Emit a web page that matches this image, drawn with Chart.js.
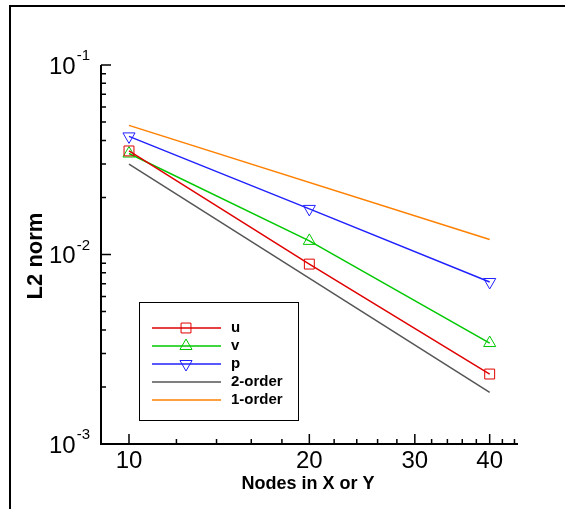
<!DOCTYPE html>
<html>
<head>
<meta charset="utf-8">
<script src="https://cdn.jsdelivr.net/npm/chart.js@4"></script>
<style>
  html, body { margin: 0; padding: 0; background: #fff; }
  #wrap { width: 565px; height: 509px; position: relative; }
</style>
</head>
<body>
<div id="wrap"><canvas id="convChart"></canvas></div>
<script>
// grid sizes and errors
const nodes = [10, 20, 40];
const uErr = [0.0352, 0.0089, 0.00234];
const vErr = [0.0341, 0.0118, 0.00341];
const pErr = [0.0420, 0.0174, 0.00716];
const refNodes = [10, 40];
const order2 = [0.0300, 0.001875];
const order1 = [0.0480, 0.0120];

const xMajor = [10, 20, 30, 40];
const xMinor = [12, 14, 16, 18, 22, 24, 26, 28, 32, 34, 36, 38, 42, 44];
const yMajor = [0.1, 0.01, 0.001];
const yMajorExp = ['-1', '-2', '-3'];
const yMinor = [0.002, 0.003, 0.004, 0.005, 0.006, 0.007, 0.008, 0.009,
                0.02, 0.03, 0.04, 0.05, 0.06, 0.07, 0.08, 0.09];

const RED = '#e00000', GREEN = '#00c800', BLUE = '#2020ff', GREY = '#555555', ORANGE = '#ff8000';
const FONT = "'Liberation Sans', Arial, sans-serif";

function pts(xs, ys) {
  return xs.map((x, i) => ({ x: x, y: ys[i] }));
}

function markerPath(ctx, style, x, y, r) {
  ctx.beginPath();
  if (style === 'rect') {
    const s = r * Math.SQRT1_2;
    ctx.rect(x - s, y - s, 2 * s, 2 * s);
  } else {
    const dir = style === 'down' ? -1 : 1;
    const w = r * Math.sqrt(3) / 2;
    ctx.moveTo(x, y - dir * r);
    ctx.lineTo(x - w, y + dir * r / 2);
    ctx.lineTo(x + w, y + dir * r / 2);
    ctx.closePath();
  }
  ctx.stroke();
}

const axesPlugin = {
  id: 'tecAxes',
  afterDraw(chart) {
    const ctx = chart.ctx;
    const xs = chart.scales.x, ys = chart.scales.y;
    const a = chart.chartArea;
    ctx.save();

    // outer frame (top and left only)
    ctx.strokeStyle = '#000';
    ctx.lineWidth = 2;
    ctx.beginPath();
    ctx.moveTo(10, 509);
    ctx.lineTo(10, 6);
    ctx.lineTo(565, 6);
    ctx.stroke();

    // axis lines
    ctx.beginPath();
    ctx.moveTo(a.left, a.top);
    ctx.lineTo(a.left, a.bottom);
    ctx.lineTo(a.right, a.bottom);
    ctx.stroke();

    // ticks pointing inward
    ctx.lineWidth = 1.5;
    ctx.beginPath();
    xMajor.forEach(v => { const p = xs.getPixelForValue(v); ctx.moveTo(p, a.bottom); ctx.lineTo(p, a.bottom - 10); });
    xMinor.forEach(v => { const p = xs.getPixelForValue(v); ctx.moveTo(p, a.bottom); ctx.lineTo(p, a.bottom - 5); });
    yMajor.forEach(v => { const p = ys.getPixelForValue(v); ctx.moveTo(a.left, p); ctx.lineTo(a.left + 10, p); });
    yMinor.forEach(v => { const p = ys.getPixelForValue(v); ctx.moveTo(a.left, p); ctx.lineTo(a.left + 5, p); });
    ctx.stroke();

    // tick labels
    ctx.fillStyle = '#000';
    ctx.font = '24px ' + FONT;
    ctx.textAlign = 'center';
    ctx.textBaseline = 'middle';
    xMajor.forEach(v => ctx.fillText(String(v), xs.getPixelForValue(v), a.bottom + 17));

    yMajor.forEach((v, i) => {
      const p = ys.getPixelForValue(v);
      ctx.font = '15px ' + FONT;
      const ew = ctx.measureText(yMajorExp[i]).width;
      const right = a.left - 11;
      ctx.textAlign = 'left';
      ctx.textBaseline = 'middle';
      ctx.fillText(yMajorExp[i], right - ew, p - 9);
      ctx.font = '24px ' + FONT;
      ctx.textAlign = 'right';
      ctx.fillText('10', right - ew - 1, p + 2);
    });

    // axis titles
    ctx.font = 'bold 18px ' + FONT;
    ctx.textAlign = 'center';
    ctx.textBaseline = 'middle';
    ctx.fillText('Nodes in X or Y', 308, 484);

    ctx.save();
    ctx.translate(36, 256);
    ctx.rotate(-Math.PI / 2);
    ctx.font = 'bold 22px ' + FONT;
    ctx.fillText('L2 norm', 0, 0);
    ctx.restore();

    // legend box
    ctx.lineWidth = 1;
    ctx.strokeStyle = '#000';
    ctx.strokeRect(139.5, 302.5, 159, 118);
    const rows = [328, 346, 364, 382, 400];
    chart.data.datasets.forEach((ds, i) => {
      const y = rows[i];
      ctx.strokeStyle = ds.borderColor;
      ctx.lineWidth = ds.borderWidth;
      ctx.beginPath();
      ctx.moveTo(152, y);
      ctx.lineTo(221, y);
      ctx.stroke();
      if (ds.marker) {
        ctx.lineWidth = 1;
        markerPath(ctx, ds.marker, 186, y, 7);
      }
      ctx.fillStyle = '#000';
      ctx.font = 'bold 15px ' + FONT;
      ctx.textAlign = 'left';
      ctx.textBaseline = 'middle';
      ctx.fillText(ds.label, 231, y);
    });

    ctx.restore();
  }
};

new Chart(document.getElementById('convChart').getContext('2d'), {
  type: 'line',
  data: {
    datasets: [
      { label: 'u', data: pts(nodes, uErr), borderColor: RED, borderWidth: 1.5,
        pointStyle: 'rect', pointRadius: 7, pointBorderWidth: 1, pointBorderColor: RED,
        pointBackgroundColor: 'rgba(0,0,0,0)', marker: 'rect' },
      { label: 'v', data: pts(nodes, vErr), borderColor: GREEN, borderWidth: 1.5,
        pointStyle: 'triangle', pointRadius: 7, pointBorderWidth: 1, pointBorderColor: GREEN,
        pointBackgroundColor: 'rgba(0,0,0,0)', marker: 'up' },
      { label: 'p', data: pts(nodes, pErr), borderColor: BLUE, borderWidth: 1.5,
        pointStyle: 'triangle', pointRotation: 180, pointRadius: 7, pointBorderWidth: 1, pointBorderColor: BLUE,
        pointBackgroundColor: 'rgba(0,0,0,0)', marker: 'down' },
      { label: '2-order', data: pts(refNodes, order2), borderColor: GREY, borderWidth: 1.5, pointRadius: 0 },
      { label: '1-order', data: pts(refNodes, order1), borderColor: ORANGE, borderWidth: 1.5, pointRadius: 0 }
    ]
  },
  options: {
    responsive: true,
    maintainAspectRatio: false,
    animation: false,
    layout: { padding: { left: 101, right: 47, top: 65, bottom: 65 } },
    plugins: {
      legend: { display: false },
      tooltip: { enabled: false }
    },
    scales: {
      x: { type: 'logarithmic', min: 8.98, max: 44.6, display: false },
      y: { type: 'logarithmic', min: 0.001, max: 0.1, display: false }
    }
  },
  plugins: [axesPlugin]
});
</script>
</body>
</html>
